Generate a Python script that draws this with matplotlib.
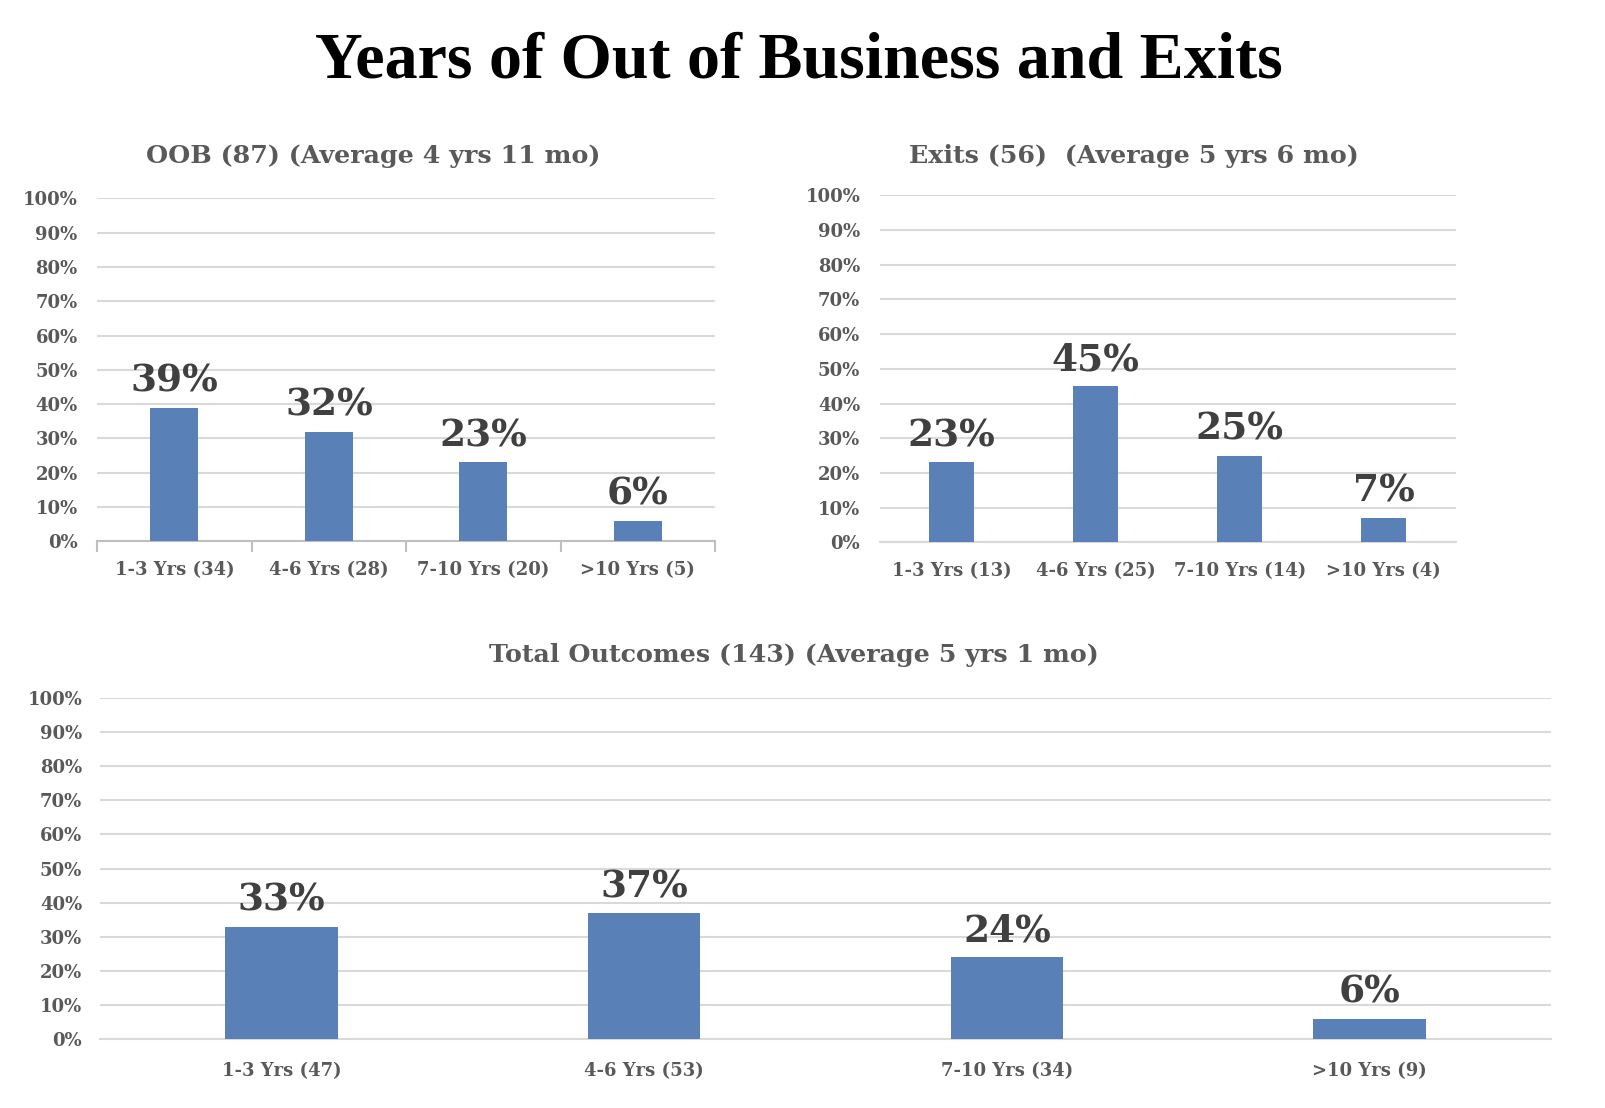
import matplotlib
matplotlib.use("Agg")
import matplotlib.pyplot as plt

plt.rcParams["font.family"] = ["DejaVu Serif"]
plt.rcParams["font.weight"] = "bold"

# data
oob_labels = ["1-3 Yrs (34)", "4-6 Yrs (28)", "7-10 Yrs (20)", ">10 Yrs (5)"]
oob_values = [39, 32, 23, 6]

exit_labels = ["1-3 Yrs (13)", "4-6 Yrs (25)", "7-10 Yrs (14)", ">10 Yrs (4)"]
exit_values = [23, 45, 25, 7]

total_labels = ["1-3 Yrs (47)", "4-6 Yrs (53)", "7-10 Yrs (34)", ">10 Yrs (9)"]
total_values = [33, 37, 24, 6]

y_ticks = list(range(0, 101, 10))

BAR = "#5a80b8"
GRID = "#d9d9d9"
TICK_TXT = "#595959"
LABEL_TXT = "#404040"

W, H = 1570.0, 1083.0  # coordinates measured on the reference


def box(x0, x1, y_top, y_bot):
    return [x0 / W, 1 - y_bot / H, (x1 - x0) / W, (y_bot - y_top) / H]


def draw_panel(ax, labels, values, ypad, xpad, boundary_ticks=False):
    x = list(range(len(values)))
    ax.bar(x, values, width=0.31, color=BAR, zorder=3)
    for xi, v in zip(x, values):
        ax.annotate(f"{v}%", (xi, v), xytext=(0, 11.5), textcoords="offset points",
                    ha="center", va="baseline", fontsize=27, fontweight="bold",
                    color=LABEL_TXT)
    ax.set_xlim(-0.5, len(values) - 0.5)
    ax.set_ylim(0, 100)
    ax.set_yticks(y_ticks)
    ax.set_yticklabels([f"{t}%" for t in y_ticks])
    ax.set_xticks(x)
    ax.set_xticklabels(labels)
    ax.yaxis.grid(True, color=GRID, linewidth=1.5, zorder=0)
    ax.set_axisbelow(True)
    for s in ["top", "right", "left"]:
        ax.spines[s].set_visible(False)
    ax.spines["bottom"].set_color("#bfbfbf" if boundary_ticks else GRID)
    ax.spines["bottom"].set_linewidth(1.5)
    ax.tick_params(axis="y", length=0, pad=ypad, labelsize=13, labelcolor=TICK_TXT)
    ax.tick_params(axis="x", length=0, pad=xpad, labelsize=13, labelcolor=TICK_TXT)
    if boundary_ticks:
        ax.set_xticks([i - 0.5 for i in range(len(values) + 1)], minor=True)
        ax.tick_params(axis="x", which="minor", length=8, width=1.5, color="#bfbfbf")
    for t in ax.get_xticklabels() + ax.get_yticklabels():
        t.set_fontweight("bold")


fig = plt.figure(figsize=(16.06, 11.08), dpi=100)

fig.text(781 / W, 1 - 60 / H, "Years of Out of Business and Exits",
         ha="center", va="center", fontsize=47.5, fontweight="bold", color="black",
         family=["Liberation Serif", "DejaVu Serif"])

ax1 = fig.add_axes(box(95, 699, 194, 529))
draw_panel(ax1, oob_labels, oob_values, ypad=14, xpad=14, boundary_ticks=True)
fig.text(365 / W, 1 - 152 / H, "OOB (87) (Average 4 yrs 11 mo)",
         ha="center", va="center", fontsize=18.3, fontweight="bold", color=TICK_TXT)

ax2 = fig.add_axes(box(860, 1423, 191, 530))
draw_panel(ax2, exit_labels, exit_values, ypad=14, xpad=14)
fig.text(1108 / W, 1 - 152 / H, "Exits (56)  (Average 5 yrs 6 mo)",
         ha="center", va="center", fontsize=18.3, fontweight="bold", color=TICK_TXT)

ax3 = fig.add_axes(box(98, 1516, 682, 1016))
draw_panel(ax3, total_labels, total_values, ypad=13, xpad=16)
fig.text(776 / W, 1 - 640 / H, "Total Outcomes (143) (Average 5 yrs 1 mo)",
         ha="center", va="center", fontsize=18.3, fontweight="bold", color=TICK_TXT)

fig.savefig("out.png", dpi=100, facecolor="white")
